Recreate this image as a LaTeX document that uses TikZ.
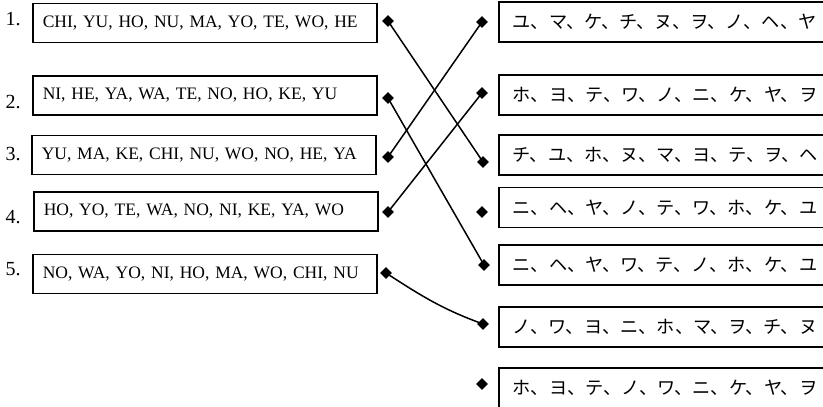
\documentclass[tikz,border=0pt]{standalone}
\usepackage{fontspec}
\setmainfont{Liberation Serif}
\newfontfamily\kana{Noto Sans CJK JP}
\usepackage{tikz}
\usetikzlibrary{shapes.geometric}

\begin{document}
\begin{tikzpicture}[x=1pt, y=-1pt,
  romaji/.style={draw, line width=1.5pt, anchor=west, minimum height=39pt,
    text width=324pt, inner xsep=10pt, inner ysep=0pt, align=left,
    font=\fontsize{17.5}{17.5}\selectfont},
  katakana/.style={draw, line width=1.5pt, anchor=west, minimum height=40pt,
    text width=330pt, inner xsep=14pt, inner ysep=0pt, align=left,
    font=\kana\fontsize{18.2}{18.2}\selectfont},
  num/.style={font=\fontsize{20}{20}\selectfont, inner sep=0pt},
  dot/.style={diamond, fill=black, inner sep=0pt, minimum size=12pt},
  link/.style={line width=1.5pt}]
\clip (0, 0) rectangle (823, 407);
\fill[white] (0, 0) rectangle (823, 407);

% left column
\node[num] (n1) at (13, 19) {1.};
\node[num] (n2) at (13, 102) {2.};
\node[num] (n3) at (13, 154) {3.};
\node[num] (n4) at (13, 217) {4.};
\node[num] (n5) at (13, 269) {5.};

\node[romaji] (l1) at (32, 23) {CHI, YU, HO, NU, MA, YO, TE, WO, HE};
\node[romaji] (l2) at (32, 95.5) {NI, HE, YA, WA, TE, NO, HO, KE, YU};
\node[romaji] (l3) at (31, 155) {YU, MA, KE, CHI, NU, WO, NO, HE, YA};
\node[romaji] (l4) at (33, 211.5) {HO, YO, TE, WA, NO, NI, KE, YA, WO};
\node[romaji] (l5) at (32, 274) {NO, WA, YO, NI, HO, MA, WO, CHI, NU};

\node[dot] (dl1) at (388, 21) {};
\node[dot] (dl2) at (388, 98) {};
\node[dot] (dl3) at (388, 157) {};
\node[dot] (dl4) at (388, 212) {};
\node[dot] (dl5) at (386, 273) {};

% right column
\node[dot] (dr1) at (482, 22) {};
\node[dot] (dr2) at (482, 93) {};
\node[dot] (dr3) at (483, 162) {};
\node[dot] (dr4) at (482, 212) {};
\node[dot] (dr5) at (484, 265) {};
\node[dot] (dr6) at (483, 324) {};
\node[dot] (dr7) at (482, 384) {};

\node[katakana] (r1) at (498, 22) {ユ、マ、ケ、チ、ヌ、ヲ、ノ、ヘ、ヤ};
\node[katakana] (r2) at (498, 95) {ホ、ヨ、テ、ワ、ノ、ニ、ケ、ヤ、ヲ};
\node[katakana] (r3) at (498, 155) {チ、ユ、ホ、ヌ、マ、ヨ、テ、ヲ、ヘ};
\node[katakana] (r4) at (498, 207.5) {ニ、ヘ、ヤ、ノ、テ、ワ、ホ、ケ、ユ};
\node[katakana] (r5) at (498, 265) {ニ、ヘ、ヤ、ワ、テ、ノ、ホ、ケ、ユ};
\node[katakana] (r6) at (498, 327) {ノ、ワ、ヨ、ニ、ホ、マ、ヲ、チ、ヌ};
\node[katakana] (r7) at (498, 388) {ホ、ヨ、テ、ノ、ワ、ニ、ケ、ヤ、ヲ};

% matching lines
\draw[link] (dl1.center) -- (dr3.center);
\draw[link] (dl2.center) -- (dr5.center);
\draw[link] (dl3.center) -- (dr1.center);
\draw[link] (dl4.center) -- (dr2.center);
\draw[link] (dl5.center) to[out=-33, in=160] (dr6.center);
\end{tikzpicture}
\end{document}
